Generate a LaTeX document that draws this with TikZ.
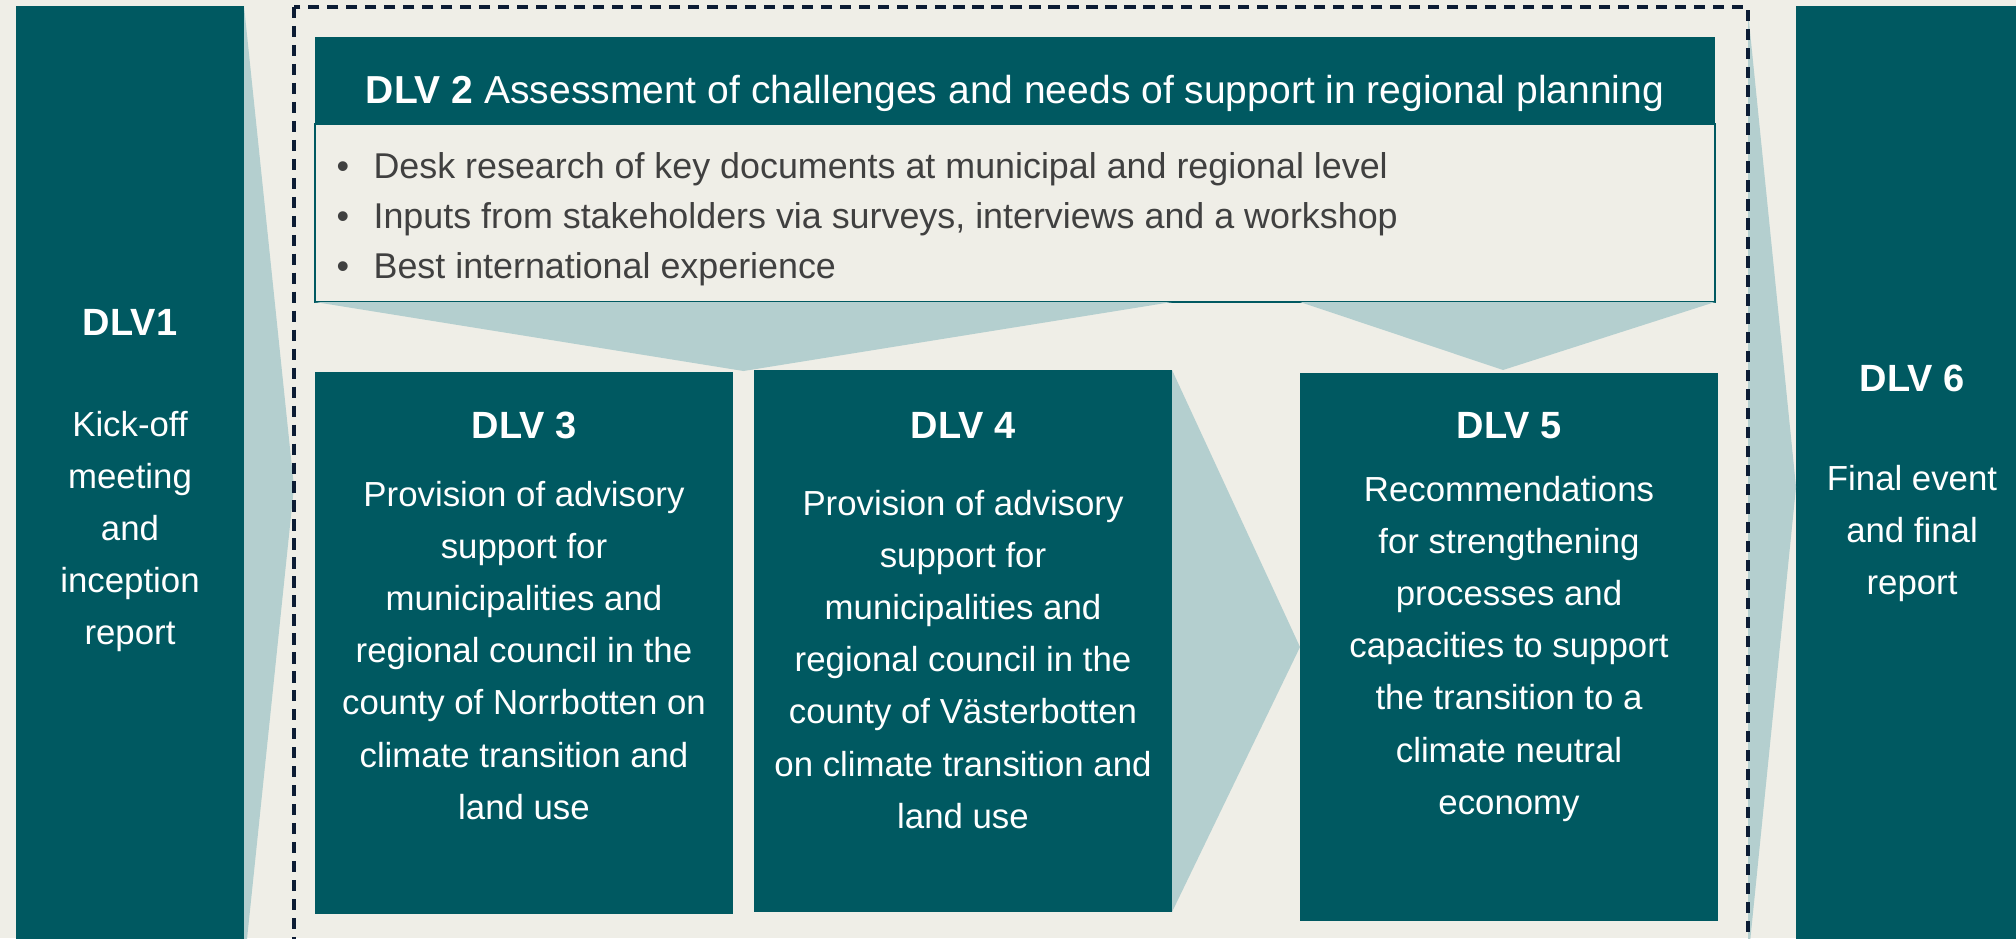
\documentclass[tikz,border=0pt]{standalone}
\usepackage{fontspec}
\setmainfont{Liberation Sans}
\usetikzlibrary{calc}
\usetikzlibrary{positioning}
\definecolor{dlvteal}{RGB}{0,89,97}
\definecolor{dlvlight}{RGB}{180,207,207}
\definecolor{dlvbg}{RGB}{239,238,231}
\definecolor{dlvdash}{RGB}{12,28,52}
\definecolor{dlvgrey}{RGB}{64,64,64}
\tikzstyle{dlvbox} = [fill=dlvteal, inner sep=0, outer sep=0, anchor=north west]
\tikzstyle{titletext} = [text=white, inner sep=0, anchor=base, font=\fontsize{10.8}{13}\selectfont\bfseries]
\tikzstyle{bodytext} = [text=white, inner sep=0, anchor=north, align=center, font=\fontsize{9.9}{14.8}\selectfont]
\tikzstyle{wedge} = [fill=dlvlight]
\tikzstyle{framedash} = [draw=dlvdash, line width=0.9pt, dash pattern=on 3.2pt off 2.2pt]

\begin{document}
\begin{tikzpicture}
    \useasboundingbox (0,0) rectangle (20.16,-9.38);
    \clip (0,0) rectangle (20.16,-9.38);
    \fill[dlvbg] (0,0) rectangle (20.16,-9.38);

    \coordinate (frame_nw) at (2.94,-0.07);
    \coordinate (frame_se) at (17.48,-9.95);

    \node[dlvbox, minimum width=2.28cm, minimum height=9.62cm] (dlv1_box) at (0.16,-0.06) {};
    \node[dlvbox, minimum width=14cm, minimum height=0.87cm] (dlv2_head) at (3.15,-0.37) {};
    \node[draw=dlvteal, line width=0.8pt, fill=dlvbg, inner sep=0, outer sep=0, anchor=north west,
        minimum width=14cm, minimum height=1.78cm] (dlv2_body) at (3.15,-1.24) {};
    \node[dlvbox, minimum width=4.18cm, minimum height=5.42cm] (dlv3_box) at (3.15,-3.72) {};
    \node[dlvbox, minimum width=4.18cm, minimum height=5.42cm] (dlv4_box) at (7.54,-3.70) {};
    \node[dlvbox, minimum width=4.18cm, minimum height=5.48cm] (dlv5_box) at (13.00,-3.73) {};
    \node[dlvbox, minimum width=2.32cm, minimum height=9.62cm] (dlv6_box) at (17.96,-0.06) {};

    \fill[wedge] (dlv1_box.north east) -- (frame_nw |- dlv1_box.east) -- (dlv1_box.south east) -- cycle;
    \fill[wedge] (dlv2_body.south west) -- ($(dlv3_box.north east)!0.5!(dlv4_box.north west)$)
        -- (dlv4_box.north east |- dlv2_body.south) -- cycle;
    \fill[wedge] (dlv5_box.north west |- dlv2_body.south) -- ($(dlv5_box.north)+(-0.06,0.03)$)
        -- (dlv2_body.south east) -- cycle;
    \fill[wedge] (dlv4_box.north east) -- (dlv5_box.west) -- (dlv4_box.south east) -- cycle;
    \fill[wedge] ($(frame_se |- frame_nw)+(0,-0.05)$) -- (dlv6_box.west)
        -- ($(frame_se |- dlv6_box.south)+(0,0.06)$) -- cycle;

    \draw[framedash] (frame_nw) rectangle (frame_se);

    \node[titletext] (dlv1_title) at ($(dlv1_box.north)+(0,-3.29)$) {DLV1};
    \node[bodytext] (dlv1_text) at ($(dlv1_box.north)+(0,-4.05)$)
        {Kick-off\\meeting\\and\\inception\\report};

    \node[anchor=base, text=white, inner sep=0, font=\fontsize{11.1}{13}\selectfont] (dlv2_title)
        at ($(dlv2_head.north)+(0,-0.66)$)
        {\textbf{DLV 2} Assessment of challenges and needs of support in regional planning};
    \node[anchor=north west, inner sep=0, align=left, text=dlvgrey, font=\fontsize{10.2}{14.2}\selectfont] (dlv2_list)
        at ($(dlv2_body.north west)+(0.21,-0.28)$)
        {\makebox[10.5pt][l]{\textbullet}Desk research of key documents at municipal and regional level\\
         \makebox[10.5pt][l]{\textbullet}Inputs from stakeholders via surveys, interviews and a workshop\\
         \makebox[10.5pt][l]{\textbullet}Best international experience};

    \node[titletext] (dlv3_title) at ($(dlv3_box.north)+(0,-0.66)$) {DLV 3};
    \node[bodytext] (dlv3_text) at ($(dlv3_box.north)+(0,-1.09)$)
        {Provision of advisory\\support for\\municipalities and\\regional council in the\\county of Norrbotten on\\climate transition and\\land use};

    \node[titletext] (dlv4_title) at ($(dlv4_box.north)+(0,-0.68)$) {DLV 4};
    \node[bodytext] (dlv4_text) at ($(dlv4_box.north)+(0,-1.20)$)
        {Provision of advisory\\support for\\municipalities and\\regional council in the\\county of Västerbotten\\on climate transition and\\land use};

    \node[titletext] (dlv5_title) at ($(dlv5_box.north)+(0,-0.65)$) {DLV 5};
    \node[bodytext] (dlv5_text) at ($(dlv5_box.north)+(0,-1.03)$)
        {Recommendations\\for strengthening\\processes and\\capacities to support\\the transition to a\\climate neutral\\economy};

    \node[titletext] (dlv6_title) at ($(dlv6_box.north)+(0,-3.85)$) {DLV 6};
    \node[bodytext] (dlv6_text) at ($(dlv6_box.north)+(0,-4.59)$)
        {Final event\\and final\\report};
\end{tikzpicture}
\end{document}
